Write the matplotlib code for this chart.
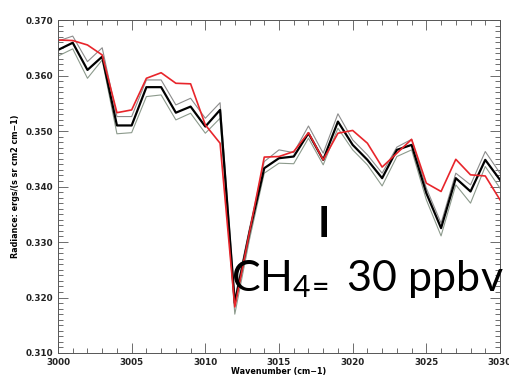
import matplotlib
matplotlib.use("Agg")
import matplotlib.pyplot as plt
from matplotlib.ticker import MultipleLocator, FormatStrFormatter

# Spectral grid (cm-1) and radiance series
wavenumber = list(range(3000, 3031))
black = [0.3646, 0.3659, 0.3610, 0.3634, 0.3510, 0.3510, 0.3579, 0.3579, 0.3533, 0.3544,
         0.3508, 0.3538, 0.3190, 0.3318, 0.3433, 0.3451, 0.3454, 0.3496, 0.3448, 0.3517,
         0.3475, 0.3448, 0.3415, 0.3466, 0.3475, 0.3388, 0.3325, 0.3415, 0.3391, 0.3448,
         0.3412]
red = [0.3664, 0.3663, 0.3655, 0.3637, 0.3533, 0.3538, 0.3595, 0.3605, 0.3586, 0.3585,
       0.3511, 0.3478, 0.3183, 0.3318, 0.3453, 0.3454, 0.3463, 0.3497, 0.3448, 0.3496,
       0.3501, 0.3478, 0.3435, 0.3460, 0.3485, 0.3406, 0.3391, 0.3449, 0.3421, 0.3419,
       0.3376]
upper = [0.3662, 0.3671, 0.3625, 0.3650, 0.3526, 0.3526, 0.3592, 0.3592, 0.3547, 0.3559,
         0.3523, 0.3551, 0.3198, 0.3325, 0.3445, 0.3466, 0.3461, 0.3509, 0.3460, 0.3531,
         0.3484, 0.3457, 0.3424, 0.3471, 0.3485, 0.3397, 0.3334, 0.3424, 0.3403, 0.3463,
         0.3424]
lower = [0.3635, 0.3648, 0.3595, 0.3628, 0.3495, 0.3497, 0.3562, 0.3565, 0.3520, 0.3532,
         0.3496, 0.3523, 0.3170, 0.3305, 0.3424, 0.3442, 0.3441, 0.3487, 0.3439, 0.3505,
         0.3466, 0.3439, 0.3401, 0.3454, 0.3466, 0.3376, 0.3311, 0.3403, 0.3370, 0.3436,
         0.3397]

plt.rcParams["mathtext.fontset"] = "custom"
plt.rcParams["mathtext.rm"] = "Lato"

fig = plt.figure(figsize=(5.1, 3.84), dpi=100)
ax = fig.add_axes([58 / 510, 1 - 353 / 384, 442 / 510, 333 / 384])

ax.plot(wavenumber, upper, color="#8c8c8c", lw=0.8)
ax.plot(wavenumber, lower, color="#8c9a8c", lw=0.8)
ax.plot(wavenumber, black, color="black", lw=1.6)
ax.plot(wavenumber, red, color="#e8252b", lw=1.2)

ax.set_xlim(3000, 3030)
ax.set_ylim(0.310, 0.370)
ax.xaxis.set_major_locator(MultipleLocator(5))
ax.xaxis.set_minor_locator(MultipleLocator(1))
ax.yaxis.set_major_locator(MultipleLocator(0.01))
ax.yaxis.set_minor_locator(MultipleLocator(0.001))
ax.yaxis.set_major_formatter(FormatStrFormatter("%.3f"))
ax.tick_params(which="both", direction="in", top=True, right=True,
               colors="#555555", labelcolor="#222222", labelsize=6.3, width=0.6)
ax.tick_params(which="major", length=7)
ax.tick_params(which="minor", length=3.5)
for lab in ax.get_xticklabels() + ax.get_yticklabels():
    lab.set_fontweight("bold")
for sp in ax.spines.values():
    sp.set_color("#555555")
    sp.set_linewidth(0.7)

ax.set_xlabel("Wavenumber (cm\u22121)", fontsize=5.8, fontweight="bold", labelpad=0)
ax.set_ylabel("Radiance: ergs/(s sr cm2 cm\u22121)", fontsize=5.8, fontweight="bold", labelpad=4)

fig.text(318 / 510, 1 - 237 / 384, "I", family="Lato", fontweight="bold",
         fontsize=30, ha="left", va="baseline", color="black")
fig.text(231 / 510, 1 - 291 / 384, r"CH$_{4\!=}$ 30 ppbv", family="Lato",
         fontsize=31, ha="left", va="baseline", color="black")

fig.savefig("out.png", dpi=100)
